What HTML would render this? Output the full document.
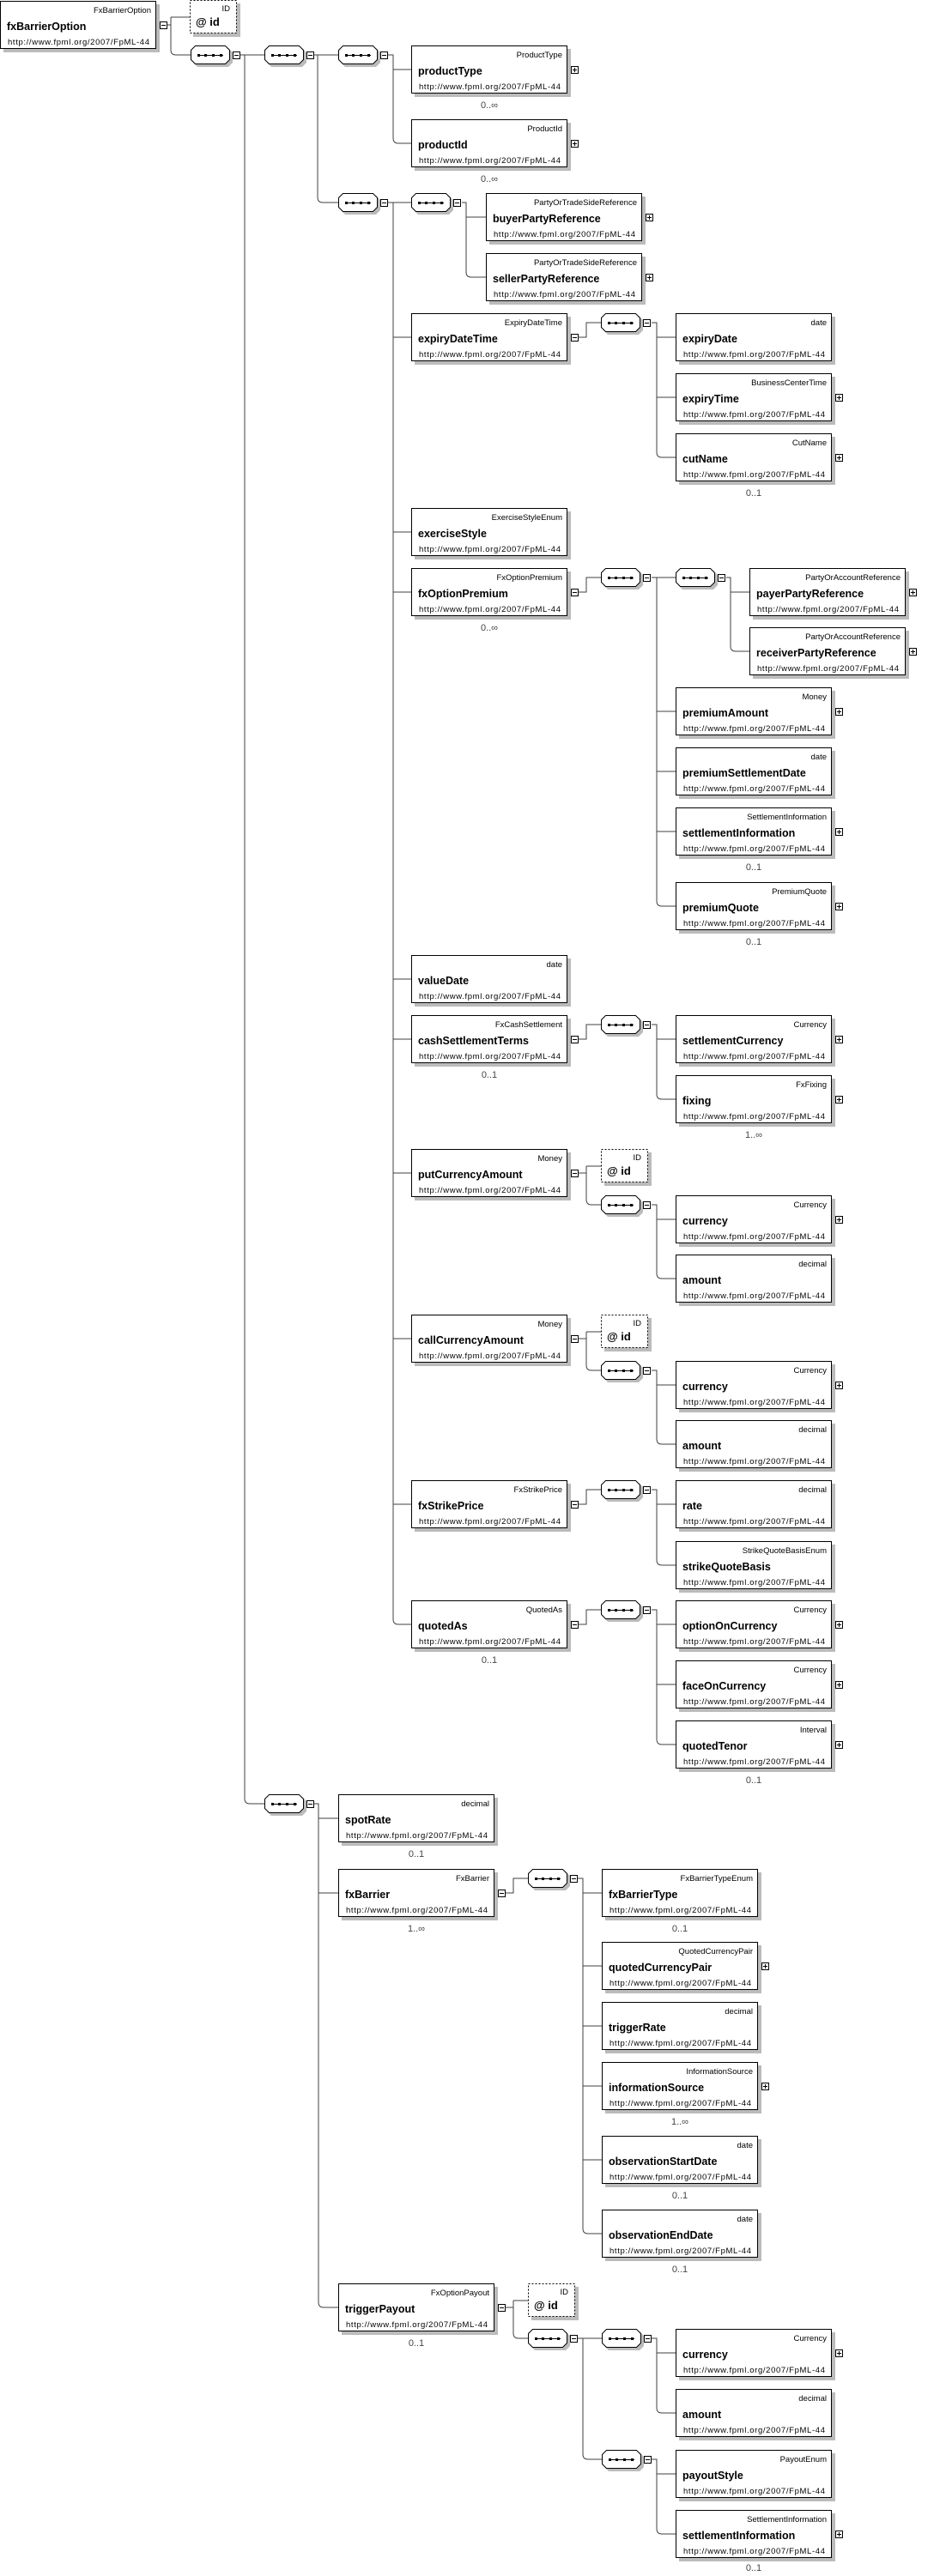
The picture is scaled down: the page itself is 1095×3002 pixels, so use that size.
<!DOCTYPE html>
<html><head><meta charset="utf-8">
<style>
html,body{margin:0;padding:0;background:#fff;}
svg{display:block;}
.t{font-family:"Liberation Sans",sans-serif;font-size:9.5px;fill:#000;}
.n{font-family:"Liberation Sans",sans-serif;font-size:12.5px;font-weight:bold;fill:#000;}
.u{font-family:"Liberation Sans",sans-serif;font-size:9.5px;fill:#000;}
.m{font-family:"Liberation Sans",sans-serif;font-size:11px;fill:#444;}
.c{fill:none;stroke:#404040;stroke-width:1;}
</style></head>
<body>
<svg width="1095" height="3002" viewBox="0 0 1095 3002" xmlns="http://www.w3.org/2000/svg">
<defs>
<symbol id="pl" viewBox="0 0 9 9" width="9" height="9"><rect x=".5" y=".5" width="8" height="8" fill="#fff" stroke="#000"/><path d="M2,4.5H7M4.5,2V7" stroke="#000"/></symbol>
<symbol id="mi" viewBox="0 0 9 9" width="9" height="9"><rect x=".5" y=".5" width="8" height="8" fill="#fff" stroke="#000"/><path d="M2,4.5H7" stroke="#000"/></symbol>
<g id="sq">
<polygon points="8,3 44,3 49,8 49,20 44,25 8,25 3,20 3,8" fill="#bbb"/>
<polygon points="5.5,.5 40.5,.5 45.5,5.5 45.5,16.5 40.5,21.5 5.5,21.5 .5,16.5 .5,5.5" fill="#fff" stroke="#000"/>
<path d="M8,11.5H38" stroke="#000" stroke-width="1"/>
<rect x="8" y="10" width="3" height="3" fill="#000"/><rect x="16" y="10" width="3" height="3" fill="#000"/><rect x="25" y="10" width="3" height="3" fill="#000"/><rect x="34" y="10" width="3" height="3" fill="#000"/>
<use href="#mi" x="49" y="7"/>
</g>
<g id="bx"><rect x="4" y="4" width="182" height="56" fill="#bbb"/><rect x=".5" y=".5" width="181" height="55" fill="#fff" stroke="#000"/></g>
<g id="idb"><rect x="4" y="4" width="55" height="39" fill="#bbb"/><rect x=".5" y=".5" width="54" height="38" fill="#fff" stroke="#000" stroke-dasharray="2,2"/><text x="47" y="13" class="t" text-anchor="end">ID</text><text x="7" y="30" class="n" style="font-size:13px">@ id</text></g>
</defs>

<path class="c" d="M194,29H199 M199,20V58Q199,64 205,64H222 M199,20H221
M280,64H308 M285,64V2096Q285,2102 291,2102H308
M366,64H394 M370,64V230Q370,236 376,236H394
M452,64H458V161Q458,167 464,167H479 M458,81H479
M452,236H479 M458,236V1887Q458,1893 464,1893H479
M458,393H479 M458,620H479 M458,690H479 M458,1141H479 M458,1211H479 M458,1367H479 M458,1560H479 M458,1753H479
M538,236H543V317Q543,323 549,323H566 M543,253H566
M674,393H683V376H700
M759,376H765V527Q765,533 771,533H787 M765,393H787 M765,463H787
M674,690H683V673H700 M759,673H787
M765,673V1050Q765,1056 771,1056H787 M765,829H787 M765,899H787 M765,969H787
M846,673H851V753Q851,759 857,759H873 M851,690H873
M674,1211H683V1194H700
M759,1194H765V1275Q765,1281 771,1281H787 M765,1211H787
M674,1367H683 M683,1359V1398Q683,1404 689,1404H700 M683,1359H700
M759,1404H765V1484Q765,1490 771,1490H787 M765,1421H787
M674,1560H683 M683,1552V1591Q683,1597 689,1597H700 M683,1552H700
M759,1597H765V1677Q765,1683 771,1683H787 M765,1614H787
M674,1753H683V1736H700
M759,1736H765V1818Q765,1824 771,1824H787 M765,1753H787
M674,1893H683V1876H700
M759,1876H765V2027Q765,2033 771,2033H787 M765,1893H787 M765,1963H787
M366,2102H371V2683Q371,2689 377,2689H394 M371,2119H394 M371,2206H394
M589,2206H598V2189H615
M673,2189H679V2597Q679,2603 685,2603H701 M679,2206H701 M679,2291H701 M679,2361H701 M679,2431H701 M679,2517H701
M589,2689H598 M598,2681V2719Q598,2725 604,2725H615 M598,2681H615
M673,2725H701 M679,2725V2860Q679,2866 685,2866H701
M759,2725H765V2806Q765,2812 771,2812H787 M765,2742H787
M759,2866H765V2947Q765,2953 771,2953H787 M765,2883H787"/>

<g transform="translate(0,1)"><use href="#bx"/><text x="176" y="14" class="t" text-anchor="end">FxBarrierOption</text><text x="8" y="34" class="n">fxBarrierOption</text><text x="9" y="51" class="u" textLength="165">http://www.fpml.org/2007/FpML-44</text><use href="#mi" x="186" y="24"/></g>
<use href="#idb" x="221" y="0"/>

<use href="#sq" x="222" y="53"/>
<use href="#sq" x="308" y="53"/>
<use href="#sq" x="394" y="53"/>
<use href="#sq" x="394" y="225"/>
<use href="#sq" x="479" y="225"/>
<use href="#sq" x="700" y="365"/>
<use href="#sq" x="700" y="662"/>
<use href="#sq" x="787" y="662"/>
<use href="#sq" x="700" y="1183"/>
<use href="#sq" x="700" y="1393"/>
<use href="#sq" x="700" y="1586"/>
<use href="#sq" x="700" y="1725"/>
<use href="#sq" x="700" y="1865"/>
<use href="#sq" x="308" y="2091"/>
<use href="#sq" x="615" y="2178"/>
<use href="#sq" x="615" y="2714"/>
<use href="#sq" x="701" y="2714"/>
<use href="#sq" x="701" y="2855"/>

<use href="#idb" x="700" y="1339"/>
<use href="#idb" x="700" y="1532"/>
<use href="#idb" x="615" y="2661"/>

<g transform="translate(479,53)"><use href="#bx"/><text x="176" y="14" class="t" text-anchor="end">ProductType</text><text x="8" y="34" class="n">productType</text><text x="9" y="51" class="u" textLength="165">http://www.fpml.org/2007/FpML-44</text><use href="#pl" x="186" y="24"/><text x="91" y="73" class="m" text-anchor="middle">0..∞</text></g>
<g transform="translate(479,139)"><use href="#bx"/><text x="176" y="14" class="t" text-anchor="end">ProductId</text><text x="8" y="34" class="n">productId</text><text x="9" y="51" class="u" textLength="165">http://www.fpml.org/2007/FpML-44</text><use href="#pl" x="186" y="24"/><text x="91" y="73" class="m" text-anchor="middle">0..∞</text></g>
<g transform="translate(566,225)"><use href="#bx"/><text x="176" y="14" class="t" text-anchor="end">PartyOrTradeSideReference</text><text x="8" y="34" class="n">buyerPartyReference</text><text x="9" y="51" class="u" textLength="165">http://www.fpml.org/2007/FpML-44</text><use href="#pl" x="186" y="24"/></g>
<g transform="translate(566,295)"><use href="#bx"/><text x="176" y="14" class="t" text-anchor="end">PartyOrTradeSideReference</text><text x="8" y="34" class="n">sellerPartyReference</text><text x="9" y="51" class="u" textLength="165">http://www.fpml.org/2007/FpML-44</text><use href="#pl" x="186" y="24"/></g>

<g transform="translate(479,365)"><use href="#bx"/><text x="176" y="14" class="t" text-anchor="end">ExpiryDateTime</text><text x="8" y="34" class="n">expiryDateTime</text><text x="9" y="51" class="u" textLength="165">http://www.fpml.org/2007/FpML-44</text><use href="#mi" x="186" y="24"/></g>
<g transform="translate(787,365)"><use href="#bx"/><text x="176" y="14" class="t" text-anchor="end">date</text><text x="8" y="34" class="n">expiryDate</text><text x="9" y="51" class="u" textLength="165">http://www.fpml.org/2007/FpML-44</text></g>
<g transform="translate(787,435)"><use href="#bx"/><text x="176" y="14" class="t" text-anchor="end">BusinessCenterTime</text><text x="8" y="34" class="n">expiryTime</text><text x="9" y="51" class="u" textLength="165">http://www.fpml.org/2007/FpML-44</text><use href="#pl" x="186" y="24"/></g>
<g transform="translate(787,505)"><use href="#bx"/><text x="176" y="14" class="t" text-anchor="end">CutName</text><text x="8" y="34" class="n">cutName</text><text x="9" y="51" class="u" textLength="165">http://www.fpml.org/2007/FpML-44</text><use href="#pl" x="186" y="24"/><text x="91" y="73" class="m" text-anchor="middle">0..1</text></g>

<g transform="translate(479,592)"><use href="#bx"/><text x="176" y="14" class="t" text-anchor="end">ExerciseStyleEnum</text><text x="8" y="34" class="n">exerciseStyle</text><text x="9" y="51" class="u" textLength="165">http://www.fpml.org/2007/FpML-44</text></g>
<g transform="translate(479,662)"><use href="#bx"/><text x="176" y="14" class="t" text-anchor="end">FxOptionPremium</text><text x="8" y="34" class="n">fxOptionPremium</text><text x="9" y="51" class="u" textLength="165">http://www.fpml.org/2007/FpML-44</text><use href="#mi" x="186" y="24"/><text x="91" y="73" class="m" text-anchor="middle">0..∞</text></g>
<g transform="translate(873,662)"><use href="#bx"/><text x="176" y="14" class="t" text-anchor="end">PartyOrAccountReference</text><text x="8" y="34" class="n">payerPartyReference</text><text x="9" y="51" class="u" textLength="165">http://www.fpml.org/2007/FpML-44</text><use href="#pl" x="186" y="24"/></g>
<g transform="translate(873,731)"><use href="#bx"/><text x="176" y="14" class="t" text-anchor="end">PartyOrAccountReference</text><text x="8" y="34" class="n">receiverPartyReference</text><text x="9" y="51" class="u" textLength="165">http://www.fpml.org/2007/FpML-44</text><use href="#pl" x="186" y="24"/></g>
<g transform="translate(787,801)"><use href="#bx"/><text x="176" y="14" class="t" text-anchor="end">Money</text><text x="8" y="34" class="n">premiumAmount</text><text x="9" y="51" class="u" textLength="165">http://www.fpml.org/2007/FpML-44</text><use href="#pl" x="186" y="24"/></g>
<g transform="translate(787,871)"><use href="#bx"/><text x="176" y="14" class="t" text-anchor="end">date</text><text x="8" y="34" class="n">premiumSettlementDate</text><text x="9" y="51" class="u" textLength="165">http://www.fpml.org/2007/FpML-44</text></g>
<g transform="translate(787,941)"><use href="#bx"/><text x="176" y="14" class="t" text-anchor="end">SettlementInformation</text><text x="8" y="34" class="n">settlementInformation</text><text x="9" y="51" class="u" textLength="165">http://www.fpml.org/2007/FpML-44</text><use href="#pl" x="186" y="24"/><text x="91" y="73" class="m" text-anchor="middle">0..1</text></g>
<g transform="translate(787,1028)"><use href="#bx"/><text x="176" y="14" class="t" text-anchor="end">PremiumQuote</text><text x="8" y="34" class="n">premiumQuote</text><text x="9" y="51" class="u" textLength="165">http://www.fpml.org/2007/FpML-44</text><use href="#pl" x="186" y="24"/><text x="91" y="73" class="m" text-anchor="middle">0..1</text></g>

<g transform="translate(479,1113)"><use href="#bx"/><text x="176" y="14" class="t" text-anchor="end">date</text><text x="8" y="34" class="n">valueDate</text><text x="9" y="51" class="u" textLength="165">http://www.fpml.org/2007/FpML-44</text></g>
<g transform="translate(479,1183)"><use href="#bx"/><text x="176" y="14" class="t" text-anchor="end">FxCashSettlement</text><text x="8" y="34" class="n">cashSettlementTerms</text><text x="9" y="51" class="u" textLength="165">http://www.fpml.org/2007/FpML-44</text><use href="#mi" x="186" y="24"/><text x="91" y="73" class="m" text-anchor="middle">0..1</text></g>
<g transform="translate(787,1183)"><use href="#bx"/><text x="176" y="14" class="t" text-anchor="end">Currency</text><text x="8" y="34" class="n">settlementCurrency</text><text x="9" y="51" class="u" textLength="165">http://www.fpml.org/2007/FpML-44</text><use href="#pl" x="186" y="24"/></g>
<g transform="translate(787,1253)"><use href="#bx"/><text x="176" y="14" class="t" text-anchor="end">FxFixing</text><text x="8" y="34" class="n">fixing</text><text x="9" y="51" class="u" textLength="165">http://www.fpml.org/2007/FpML-44</text><use href="#pl" x="186" y="24"/><text x="91" y="73" class="m" text-anchor="middle">1..∞</text></g>

<g transform="translate(479,1339)"><use href="#bx"/><text x="176" y="14" class="t" text-anchor="end">Money</text><text x="8" y="34" class="n">putCurrencyAmount</text><text x="9" y="51" class="u" textLength="165">http://www.fpml.org/2007/FpML-44</text><use href="#mi" x="186" y="24"/></g>
<g transform="translate(787,1393)"><use href="#bx"/><text x="176" y="14" class="t" text-anchor="end">Currency</text><text x="8" y="34" class="n">currency</text><text x="9" y="51" class="u" textLength="165">http://www.fpml.org/2007/FpML-44</text><use href="#pl" x="186" y="24"/></g>
<g transform="translate(787,1462)"><use href="#bx"/><text x="176" y="14" class="t" text-anchor="end">decimal</text><text x="8" y="34" class="n">amount</text><text x="9" y="51" class="u" textLength="165">http://www.fpml.org/2007/FpML-44</text></g>

<g transform="translate(479,1532)"><use href="#bx"/><text x="176" y="14" class="t" text-anchor="end">Money</text><text x="8" y="34" class="n">callCurrencyAmount</text><text x="9" y="51" class="u" textLength="165">http://www.fpml.org/2007/FpML-44</text><use href="#mi" x="186" y="24"/></g>
<g transform="translate(787,1586)"><use href="#bx"/><text x="176" y="14" class="t" text-anchor="end">Currency</text><text x="8" y="34" class="n">currency</text><text x="9" y="51" class="u" textLength="165">http://www.fpml.org/2007/FpML-44</text><use href="#pl" x="186" y="24"/></g>
<g transform="translate(787,1655)"><use href="#bx"/><text x="176" y="14" class="t" text-anchor="end">decimal</text><text x="8" y="34" class="n">amount</text><text x="9" y="51" class="u" textLength="165">http://www.fpml.org/2007/FpML-44</text></g>

<g transform="translate(479,1725)"><use href="#bx"/><text x="176" y="14" class="t" text-anchor="end">FxStrikePrice</text><text x="8" y="34" class="n">fxStrikePrice</text><text x="9" y="51" class="u" textLength="165">http://www.fpml.org/2007/FpML-44</text><use href="#mi" x="186" y="24"/></g>
<g transform="translate(787,1725)"><use href="#bx"/><text x="176" y="14" class="t" text-anchor="end">decimal</text><text x="8" y="34" class="n">rate</text><text x="9" y="51" class="u" textLength="165">http://www.fpml.org/2007/FpML-44</text></g>
<g transform="translate(787,1796)"><use href="#bx"/><text x="176" y="14" class="t" text-anchor="end">StrikeQuoteBasisEnum</text><text x="8" y="34" class="n">strikeQuoteBasis</text><text x="9" y="51" class="u" textLength="165">http://www.fpml.org/2007/FpML-44</text></g>

<g transform="translate(479,1865)"><use href="#bx"/><text x="176" y="14" class="t" text-anchor="end">QuotedAs</text><text x="8" y="34" class="n">quotedAs</text><text x="9" y="51" class="u" textLength="165">http://www.fpml.org/2007/FpML-44</text><use href="#mi" x="186" y="24"/><text x="91" y="73" class="m" text-anchor="middle">0..1</text></g>
<g transform="translate(787,1865)"><use href="#bx"/><text x="176" y="14" class="t" text-anchor="end">Currency</text><text x="8" y="34" class="n">optionOnCurrency</text><text x="9" y="51" class="u" textLength="165">http://www.fpml.org/2007/FpML-44</text><use href="#pl" x="186" y="24"/></g>
<g transform="translate(787,1935)"><use href="#bx"/><text x="176" y="14" class="t" text-anchor="end">Currency</text><text x="8" y="34" class="n">faceOnCurrency</text><text x="9" y="51" class="u" textLength="165">http://www.fpml.org/2007/FpML-44</text><use href="#pl" x="186" y="24"/></g>
<g transform="translate(787,2005)"><use href="#bx"/><text x="176" y="14" class="t" text-anchor="end">Interval</text><text x="8" y="34" class="n">quotedTenor</text><text x="9" y="51" class="u" textLength="165">http://www.fpml.org/2007/FpML-44</text><use href="#pl" x="186" y="24"/><text x="91" y="73" class="m" text-anchor="middle">0..1</text></g>

<g transform="translate(394,2091)"><use href="#bx"/><text x="176" y="14" class="t" text-anchor="end">decimal</text><text x="8" y="34" class="n">spotRate</text><text x="9" y="51" class="u" textLength="165">http://www.fpml.org/2007/FpML-44</text><text x="91" y="73" class="m" text-anchor="middle">0..1</text></g>
<g transform="translate(394,2178)"><use href="#bx"/><text x="176" y="14" class="t" text-anchor="end">FxBarrier</text><text x="8" y="34" class="n">fxBarrier</text><text x="9" y="51" class="u" textLength="165">http://www.fpml.org/2007/FpML-44</text><use href="#mi" x="186" y="24"/><text x="91" y="73" class="m" text-anchor="middle">1..∞</text></g>
<g transform="translate(701,2178)"><use href="#bx"/><text x="176" y="14" class="t" text-anchor="end">FxBarrierTypeEnum</text><text x="8" y="34" class="n">fxBarrierType</text><text x="9" y="51" class="u" textLength="165">http://www.fpml.org/2007/FpML-44</text><text x="91" y="73" class="m" text-anchor="middle">0..1</text></g>
<g transform="translate(701,2263)"><use href="#bx"/><text x="176" y="14" class="t" text-anchor="end">QuotedCurrencyPair</text><text x="8" y="34" class="n">quotedCurrencyPair</text><text x="9" y="51" class="u" textLength="165">http://www.fpml.org/2007/FpML-44</text><use href="#pl" x="186" y="24"/></g>
<g transform="translate(701,2333)"><use href="#bx"/><text x="176" y="14" class="t" text-anchor="end">decimal</text><text x="8" y="34" class="n">triggerRate</text><text x="9" y="51" class="u" textLength="165">http://www.fpml.org/2007/FpML-44</text></g>
<g transform="translate(701,2403)"><use href="#bx"/><text x="176" y="14" class="t" text-anchor="end">InformationSource</text><text x="8" y="34" class="n">informationSource</text><text x="9" y="51" class="u" textLength="165">http://www.fpml.org/2007/FpML-44</text><use href="#pl" x="186" y="24"/><text x="91" y="73" class="m" text-anchor="middle">1..∞</text></g>
<g transform="translate(701,2489)"><use href="#bx"/><text x="176" y="14" class="t" text-anchor="end">date</text><text x="8" y="34" class="n">observationStartDate</text><text x="9" y="51" class="u" textLength="165">http://www.fpml.org/2007/FpML-44</text><text x="91" y="73" class="m" text-anchor="middle">0..1</text></g>
<g transform="translate(701,2575)"><use href="#bx"/><text x="176" y="14" class="t" text-anchor="end">date</text><text x="8" y="34" class="n">observationEndDate</text><text x="9" y="51" class="u" textLength="165">http://www.fpml.org/2007/FpML-44</text><text x="91" y="73" class="m" text-anchor="middle">0..1</text></g>

<g transform="translate(394,2661)"><use href="#bx"/><text x="176" y="14" class="t" text-anchor="end">FxOptionPayout</text><text x="8" y="34" class="n">triggerPayout</text><text x="9" y="51" class="u" textLength="165">http://www.fpml.org/2007/FpML-44</text><use href="#mi" x="186" y="24"/><text x="91" y="73" class="m" text-anchor="middle">0..1</text></g>
<g transform="translate(787,2714)"><use href="#bx"/><text x="176" y="14" class="t" text-anchor="end">Currency</text><text x="8" y="34" class="n">currency</text><text x="9" y="51" class="u" textLength="165">http://www.fpml.org/2007/FpML-44</text><use href="#pl" x="186" y="24"/></g>
<g transform="translate(787,2784)"><use href="#bx"/><text x="176" y="14" class="t" text-anchor="end">decimal</text><text x="8" y="34" class="n">amount</text><text x="9" y="51" class="u" textLength="165">http://www.fpml.org/2007/FpML-44</text></g>
<g transform="translate(787,2855)"><use href="#bx"/><text x="176" y="14" class="t" text-anchor="end">PayoutEnum</text><text x="8" y="34" class="n">payoutStyle</text><text x="9" y="51" class="u" textLength="165">http://www.fpml.org/2007/FpML-44</text></g>
<g transform="translate(787,2925)"><use href="#bx"/><text x="176" y="14" class="t" text-anchor="end">SettlementInformation</text><text x="8" y="34" class="n">settlementInformation</text><text x="9" y="51" class="u" textLength="165">http://www.fpml.org/2007/FpML-44</text><use href="#pl" x="186" y="24"/><text x="91" y="71" class="m" text-anchor="middle">0..1</text></g>
</svg>
</body></html>
